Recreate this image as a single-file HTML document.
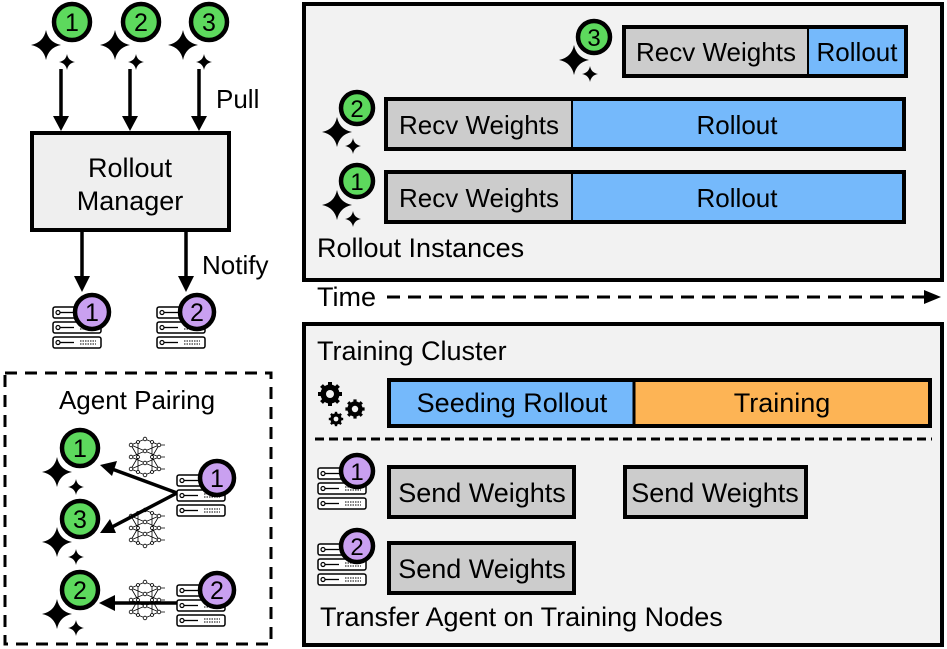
<!DOCTYPE html>
<html><head><meta charset="utf-8"><style>
html,body{margin:0;padding:0;background:#fff}
svg{display:block}
text{font-family:"Liberation Sans",Arial,sans-serif;fill:#000}
</style></head><body>
<svg width="947" height="649" viewBox="0 0 947 649" xmlns="http://www.w3.org/2000/svg">
<defs>
<path id="star" d="M0,-15 Q2.5,-2.5 15,0 Q2.5,2.5 0,15 Q-2.5,2.5 -15,0 Q-2.5,-2.5 0,-15Z" fill="#000"/>
<path id="sstar" d="M0,-8 Q1.2,-1.2 8,0 Q1.2,1.2 0,8 Q-1.2,1.2 -8,0 Q-1.2,-1.2 0,-8Z" fill="#000"/>
<g id="srvunit"><rect x="0" y="0" width="48" height="11" rx="2" fill="#fff" stroke="#000" stroke-width="1.5"/><circle cx="5" cy="5.5" r="2" fill="none" stroke="#000" stroke-width="1.2"/><line x1="7" y1="5.5" x2="21" y2="5.5" stroke="#000" stroke-width="1.3"/><line x1="27" y1="4" x2="43" y2="4" stroke="#000" stroke-width="1" stroke-dasharray="1.5,1"/><line x1="27" y1="7" x2="43" y2="7" stroke="#000" stroke-width="1" stroke-dasharray="1.5,1"/></g>
<g id="server"><use href="#srvunit" y="0"/><use href="#srvunit" y="15"/><use href="#srvunit" y="30"/></g>
<g id="net" stroke="#000" stroke-width="0.8" fill="#fff">
<path d="M-14,-12 L0,-18 L14,-12 M-14,-12 L0,-6 L14,-12 M-14,0 L0,-6 L14,0 M-14,0 L0,6 L14,0 M-14,12 L0,6 L14,12 M-14,12 L0,18 L14,12 M-14,-12 L-7,0 M14,-12 L7,0 M-14,12 L-7,0 M14,12 L7,0 M-7,-15 L-7,15 M7,-15 L7,15 M14,-12 L20,-12 M14,0 L20,0 M14,12 L20,12" fill="none"/>
<circle cx="-14" cy="-12" r="1.8"/><circle cx="-14" cy="0" r="1.8"/><circle cx="-14" cy="12" r="1.8"/>
<circle cx="0" cy="-18" r="1.8"/><circle cx="0" cy="-6" r="1.8"/><circle cx="0" cy="6" r="1.8"/><circle cx="0" cy="18" r="1.8"/>
<circle cx="14" cy="-12" r="1.8"/><circle cx="14" cy="0" r="1.8"/><circle cx="14" cy="12" r="1.8"/>
<circle cx="-7" cy="-15" r="1.5"/><circle cx="-7" cy="15" r="1.5"/><circle cx="7" cy="-15" r="1.5"/><circle cx="7" cy="15" r="1.5"/><circle cx="-7" cy="0" r="1.5"/><circle cx="7" cy="0" r="1.5"/>
</g>
<g id="gear"><circle r="7" fill="none" stroke="#000" stroke-width="5"/><g stroke="#000" stroke-width="4"><line x1="0" y1="-12" x2="0" y2="12"/><line x1="-12" y1="0" x2="12" y2="0"/><line x1="-8.5" y1="-8.5" x2="8.5" y2="8.5"/><line x1="-8.5" y1="8.5" x2="8.5" y2="-8.5"/></g><circle r="4" fill="#f2f2f2"/></g>
</defs>

<!-- LEFT TOP -->
<g>
<use href="#star" x="46" y="45"/><use href="#sstar" x="67" y="62"/>
<use href="#star" x="115" y="45"/><use href="#sstar" x="136" y="62"/>
<use href="#star" x="183" y="45"/><use href="#sstar" x="204" y="62"/>
<circle cx="72" cy="22" r="18" fill="#5dd95d" stroke="#000" stroke-width="4.5"/>
<circle cx="141" cy="22" r="18" fill="#5dd95d" stroke="#000" stroke-width="4.5"/>
<circle cx="209" cy="22" r="18" fill="#5dd95d" stroke="#000" stroke-width="4.5"/>
<text x="72" y="31" font-size="25" text-anchor="middle">1</text>
<text x="141" y="31" font-size="25" text-anchor="middle">2</text>
<text x="209" y="31" font-size="25" text-anchor="middle">3</text>
<g stroke="#000" stroke-width="3.5">
<line x1="61" y1="69" x2="61" y2="120" /><line x1="130" y1="69" x2="130" y2="120"/><line x1="199" y1="69" x2="199" y2="120"/>
<line x1="82" y1="232" x2="82" y2="280"/><line x1="186" y1="232" x2="186" y2="280"/>
</g>
<g fill="#000">
<path d="M53,116 L69,116 L61,131Z"/><path d="M122,116 L138,116 L130,131Z"/><path d="M191,116 L207,116 L199,131Z"/>
<path d="M74,276 L90,276 L82,292Z"/><path d="M178,276 L194,276 L186,292Z"/>
</g>
<text x="216" y="108" font-size="26">Pull</text>
<rect x="32" y="133" width="197" height="97" fill="#efefef" stroke="#000" stroke-width="4"/>
<text x="130" y="177" font-size="27" text-anchor="middle">Rollout</text>
<text x="130" y="210" font-size="27" text-anchor="middle">Manager</text>
<text x="202" y="274" font-size="26">Notify</text>
<use href="#server" x="53" y="307"/><use href="#server" x="157" y="307"/>
<circle cx="92" cy="312" r="17" fill="#c9a0f0" stroke="#000" stroke-width="4.5"/>
<circle cx="197" cy="312" r="17" fill="#c9a0f0" stroke="#000" stroke-width="4.5"/>
<text x="92" y="321" font-size="25" text-anchor="middle">1</text>
<text x="197" y="321" font-size="25" text-anchor="middle">2</text>
</g>

<!-- AGENT PAIRING -->
<rect x="5" y="373" width="266" height="271" fill="none" stroke="#000" stroke-width="3" stroke-dasharray="12,8"/>
<text x="137" y="409" font-size="26" text-anchor="middle">Agent Pairing</text>
<use href="#net" x="145" y="457"/><use href="#net" x="145" y="528"/><use href="#net" x="145" y="600"/>
<use href="#star" x="57" y="472"/><use href="#sstar" x="76" y="487"/>
<use href="#star" x="57" y="542"/><use href="#sstar" x="76" y="557"/>
<use href="#star" x="57" y="614"/><use href="#sstar" x="76" y="628"/>
<circle cx="80" cy="448" r="18" fill="#5dd95d" stroke="#000" stroke-width="4.5"/>
<circle cx="80" cy="519" r="18" fill="#5dd95d" stroke="#000" stroke-width="4.5"/>
<circle cx="80" cy="590" r="18" fill="#5dd95d" stroke="#000" stroke-width="4.5"/>
<text x="80" y="457" font-size="25" text-anchor="middle">1</text>
<text x="80" y="528" font-size="25" text-anchor="middle">3</text>
<text x="80" y="599" font-size="25" text-anchor="middle">2</text>
<g stroke="#000" stroke-width="3.5">
<line x1="177" y1="493" x2="112" y2="469"/><line x1="177" y1="493" x2="112" y2="527"/><line x1="178" y1="603" x2="112" y2="603"/>
</g>
<g fill="#000">
<path d="M100,465 L117,461 L112,476Z"/><path d="M100,533 L110,519 L116,533Z"/><path d="M99,603 L115,595 L115,611Z"/>
</g>
<use href="#server" x="177" y="475"/><use href="#server" x="177" y="585"/>
<circle cx="217" cy="478" r="17" fill="#c9a0f0" stroke="#000" stroke-width="4.5"/>
<circle cx="217" cy="590" r="17" fill="#c9a0f0" stroke="#000" stroke-width="4.5"/>
<text x="217" y="487" font-size="25" text-anchor="middle">1</text>
<text x="217" y="599" font-size="25" text-anchor="middle">2</text>

<!-- ROLLOUT INSTANCES -->
<rect x="304" y="4" width="638" height="276" fill="#f2f2f2" stroke="#000" stroke-width="4"/>
<rect x="624" y="27" width="282" height="49" fill="#cccccc" stroke="#000" stroke-width="4"/>
<rect x="808" y="29" width="96" height="45" fill="#75b9fb"/>
<line x1="808" y1="27" x2="808" y2="76" stroke="#000" stroke-width="2"/>
<text x="716" y="61" font-size="26" text-anchor="middle">Recv Weights</text>
<text x="857" y="61" font-size="26" text-anchor="middle">Rollout</text>

<rect x="386" y="99" width="518" height="50" fill="#75b9fb" stroke="#000" stroke-width="4"/>
<rect x="388" y="101" width="183" height="46" fill="#cccccc"/>
<line x1="572" y1="99" x2="572" y2="149" stroke="#000" stroke-width="2"/>
<text x="479" y="134" font-size="26" text-anchor="middle">Recv Weights</text>
<text x="737" y="134" font-size="26" text-anchor="middle">Rollout</text>

<rect x="386" y="172" width="518" height="50" fill="#75b9fb" stroke="#000" stroke-width="4"/>
<rect x="388" y="174" width="183" height="46" fill="#cccccc"/>
<line x1="572" y1="172" x2="572" y2="222" stroke="#000" stroke-width="2"/>
<text x="479" y="207" font-size="26" text-anchor="middle">Recv Weights</text>
<text x="737" y="207" font-size="26" text-anchor="middle">Rollout</text>

<use href="#star" x="574" y="60"/><use href="#sstar" x="590" y="74"/>
<use href="#star" x="337" y="132"/><use href="#sstar" x="353" y="146"/>
<use href="#star" x="337" y="205"/><use href="#sstar" x="353" y="219"/>
<circle cx="594" cy="37" r="16" fill="#5dd95d" stroke="#000" stroke-width="4.5"/>
<circle cx="357" cy="108" r="16" fill="#5dd95d" stroke="#000" stroke-width="4.5"/>
<circle cx="357" cy="181" r="16" fill="#5dd95d" stroke="#000" stroke-width="4.5"/>
<text x="594" y="46" font-size="24" text-anchor="middle">3</text>
<text x="357" y="117" font-size="24" text-anchor="middle">2</text>
<text x="357" y="190" font-size="24" text-anchor="middle">1</text>
<text x="317" y="257" font-size="27">Rollout Instances</text>

<!-- TIME -->
<text x="317" y="306" font-size="27">Time</text>
<line x1="387" y1="297" x2="926" y2="297" stroke="#000" stroke-width="3" stroke-dasharray="13,8"/>
<path d="M924,290 L941,297 L924,304Z" fill="#000"/>

<!-- TRAINING CLUSTER -->
<rect x="304" y="324" width="638" height="321" fill="#f2f2f2" stroke="#000" stroke-width="4"/>
<text x="317" y="360" font-size="27">Training Cluster</text>
<rect x="389" y="380" width="541" height="46" fill="#fdb455" stroke="#000" stroke-width="4"/>
<rect x="391" y="382" width="243" height="42" fill="#75b9fb"/>
<line x1="634" y1="380" x2="634" y2="426" stroke="#000" stroke-width="3"/>
<text x="512" y="412" font-size="27" text-anchor="middle">Seeding Rollout</text>
<text x="782" y="412" font-size="27" text-anchor="middle">Training</text>
<use href="#gear" x="330" y="394"/>
<g transform="translate(355,409) scale(0.8)"><use href="#gear"/></g>
<g transform="translate(336,419) scale(0.6)"><use href="#gear"/></g>
<line x1="315" y1="439" x2="932" y2="439" stroke="#000" stroke-width="3" stroke-dasharray="9,5"/>

<rect x="389" y="467" width="185" height="50" fill="#cccccc" stroke="#000" stroke-width="4"/>
<text x="482" y="502" font-size="27" text-anchor="middle">Send Weights</text>
<rect x="625" y="467" width="181" height="50" fill="#cccccc" stroke="#000" stroke-width="4"/>
<text x="715" y="502" font-size="27" text-anchor="middle">Send Weights</text>
<rect x="389" y="543" width="185" height="50" fill="#cccccc" stroke="#000" stroke-width="4"/>
<text x="482" y="578" font-size="27" text-anchor="middle">Send Weights</text>

<use href="#server" x="318" y="468"/><use href="#server" x="318" y="544"/>
<circle cx="357" cy="471" r="16" fill="#c9a0f0" stroke="#000" stroke-width="4.5"/>
<circle cx="357" cy="546" r="16" fill="#c9a0f0" stroke="#000" stroke-width="4.5"/>
<text x="357" y="480" font-size="24" text-anchor="middle">1</text>
<text x="357" y="555" font-size="24" text-anchor="middle">2</text>
<text x="320" y="626" font-size="27">Transfer Agent on Training Nodes</text>
</svg>
</body></html>
